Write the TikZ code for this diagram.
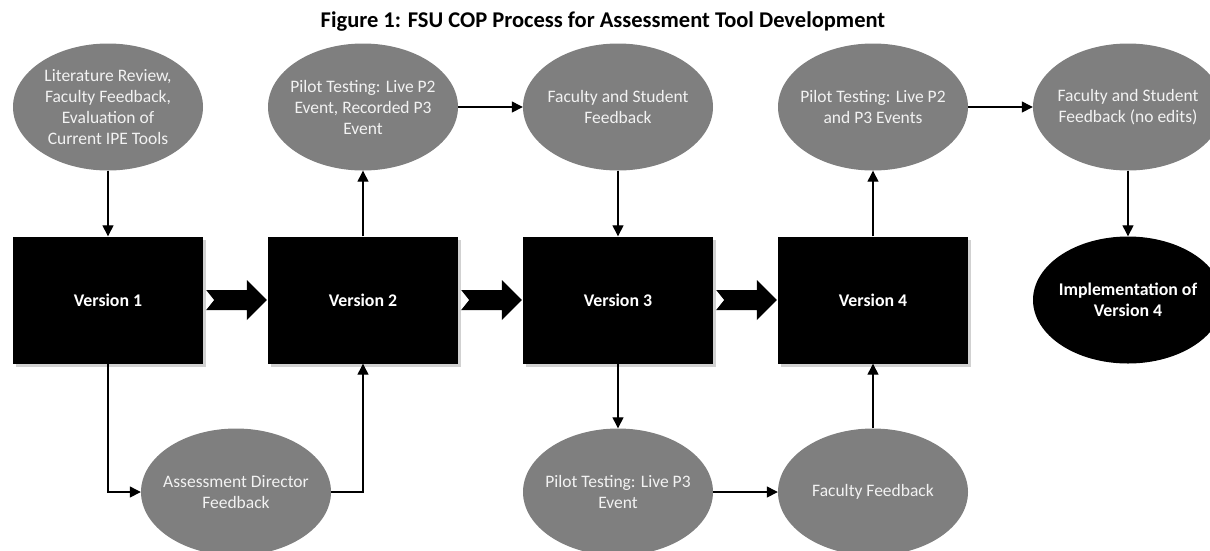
\documentclass[tikz,border=0pt]{standalone}
\usepackage{fontspec}
\setmainfont{Carlito}
\usetikzlibrary{shapes.geometric,arrows.meta,calc,shadows}
\definecolor{ellgray}{HTML}{7F7F7F}
\definecolor{elltext}{HTML}{F2F2F2}
\tikzset{
  ovaltext/.style={align=center, text=elltext, inner sep=0pt, font=\fontsize{17.5}{21}\selectfont},
  oval/.style={ellipse, fill=ellgray, minimum width=190pt, minimum height=127pt, inner sep=0pt,
    label={[ovaltext]center:#1}},
  finaltext/.style={align=center, text=white, inner sep=0pt, font=\fontsize{17.8}{21.5}\selectfont\bfseries},
  finaloval/.style={ellipse, fill=black, minimum width=190pt, minimum height=127pt, inner sep=0pt,
    label={[finaltext]center:#1}},
  verbox/.style={rectangle, fill=black, minimum width=190pt, minimum height=127pt, inner sep=0pt,
    text=white, font=\fontsize{17.8}{21.5}\selectfont\bfseries,
    drop shadow={shadow xshift=3pt, shadow yshift=-3pt, fill=black!18, opacity=1}},
  conn/.style={draw=black, line width=1.3pt, -{Triangle[length=11pt,width=11pt]}},
  blockarr/.style={fill=black}
}
\newcommand{\blockarrow}[2]{%
  \fill[blockarr] ($(#1.east)+(3,-10)$) -- ($(#2.west)+(-21,-10)$) -- ($(#2.west)+(-21,-20)$)
    -- ($(#2.west)+(-1,0)$) -- ($(#2.west)+(-21,20)$) -- ($(#2.west)+(-21,10)$)
    -- ($(#1.east)+(3,10)$) -- ($(#1.east)+(11,0)$) -- cycle;}
\begin{document}
\begin{tikzpicture}[x=1pt,y=-1pt]
\useasboundingbox (0,0) rectangle (1210,550);
\node[font=\fontsize{22.5}{26}\selectfont\bfseries] (title) at (603,22) {Figure 1: FSU COP Process for Assessment Tool Development};
% top row ellipses
\node[oval={Literature Review,\\Faculty Feedback,\\Evaluation of\\Current IPE Tools}] (lit) at (108,107) {};
\node[oval={Pilot Testing: Live P2\\Event, Recorded P3\\Event}] (p1) at (363,107) {};
\node[oval={Faculty and Student\\Feedback}] (fs1) at (618,107) {};
\node[oval={Pilot Testing: Live P2\\and P3 Events}] (p2) at (873,107) {};
\node[oval={Faculty and Student\\Feedback (no edits)}] (fs2) at (1128,107) {};
% boxes
\node[verbox] (v1) at (108,300) {Version 1};
\node[verbox] (v2) at (363,300) {Version 2};
\node[verbox] (v3) at (618,300) {Version 3};
\node[verbox] (v4) at (873,300) {Version 4};
\node[finaloval={Implementation of\\Version 4}] (impl) at (1128,300) {};
% bottom row
\node[oval={Assessment Director\\Feedback}] (ad) at (236,492) {};
\node[oval={Pilot Testing: Live P3\\Event}] (pl3) at (618,492) {};
\node[oval={Faculty Feedback}] (ff) at (873,492) {};
% block arrows
\blockarrow{v1}{v2}
\blockarrow{v2}{v3}
\blockarrow{v3}{v4}
% connectors
\draw[conn] (lit.south) -- (v1.north);
\draw[conn] (v2.north) -- (p1.south);
\draw[conn] (p1.east) -- (fs1.west);
\draw[conn] (fs1.south) -- (v3.north);
\draw[conn] (v4.north) -- (p2.south);
\draw[conn] (p2.east) -- (fs2.west);
\draw[conn] (fs2.south) -- (impl.north);
\draw[conn] (v1.south) |- (ad.west);
\draw[conn] (ad.east) -| (v2.south);
\draw[conn] (v3.south) -- (pl3.north);
\draw[conn] (pl3.east) -- (ff.west);
\draw[conn] (ff.north) -- (v4.south);
\end{tikzpicture}
\end{document}
